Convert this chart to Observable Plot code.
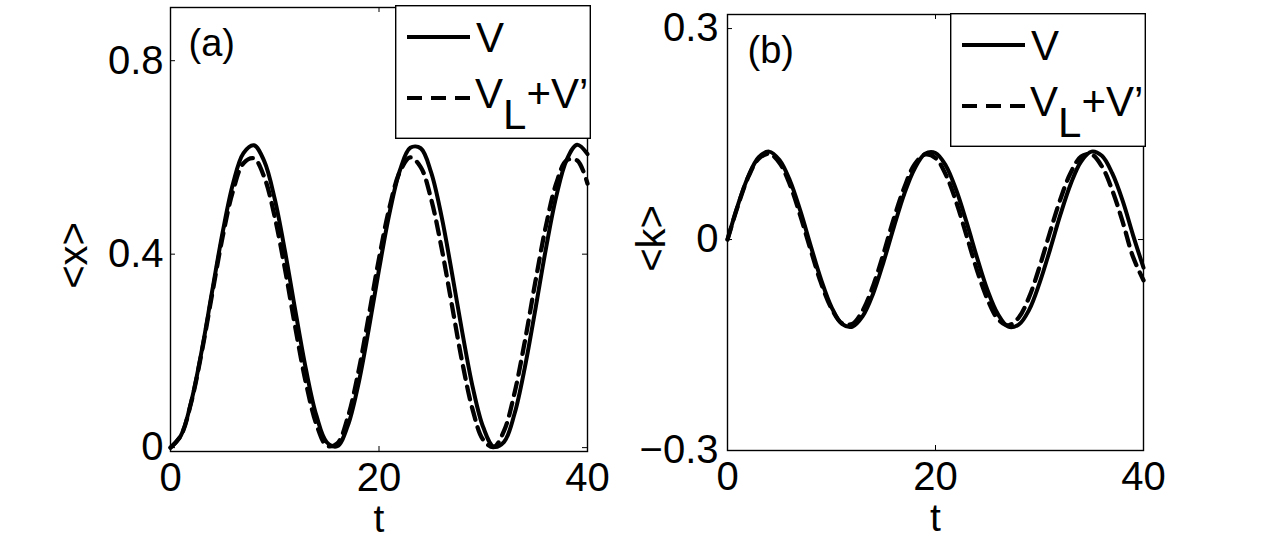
<!DOCTYPE html>
<html>
<head>
<meta charset="utf-8">
<script src="https://cdn.jsdelivr.net/npm/d3@7"></script>
<script src="https://cdn.jsdelivr.net/npm/@observablehq/plot@0.6"></script>
<style>
  html, body { margin: 0; padding: 0; background: #fff; }
  #root { position: relative; width: 1263px; height: 540px; background: #fff; overflow: hidden; }
  .panel { position: absolute; top: 0; }
  .legend { position: absolute; }
</style>
</head>
<body>
<div id="root">
  <div id="pa" class="panel" style="left:0px"></div>
  <div id="pb" class="panel" style="left:631px"></div>
  <div id="la" class="legend" style="left:395px; top:5px"></div>
  <div id="lb" class="legend" style="left:950px; top:13px"></div>
</div>
<script>
// ---- data ----
const tValues = [0,1,2,3,4,5,6,7,8,9,10,11,12,13,14,15,16,17,18,19,20,21,22,23,24,25,26,27,28,29,30,31,32,33,34,35,36,37,38,39,40];

// panel (a): <x>
const xV   = [0, 0.025, 0.096, 0.201, 0.324, 0.445, 0.546, 0.609, 0.625, 0.592, 0.514, 0.404, 0.280, 0.161, 0.066, 0.011, 0.003, 0.045, 0.129, 0.243, 0.368, 0.484, 0.573, 0.620, 0.619, 0.569, 0.478, 0.361, 0.237, 0.124, 0.042, 0.002, 0.012, 0.070, 0.167, 0.286, 0.410, 0.519, 0.595, 0.626, 0.607];
const xVLV = [0, 0.025, 0.095, 0.198, 0.318, 0.436, 0.531, 0.588, 0.598, 0.559, 0.477, 0.367, 0.245, 0.133, 0.048, 0.004, 0.009, 0.062, 0.154, 0.270, 0.391, 0.496, 0.570, 0.600, 0.580, 0.514, 0.413, 0.294, 0.175, 0.077, 0.016, 0.001, 0.035, 0.113, 0.221, 0.343, 0.457, 0.546, 0.594, 0.594, 0.546];

// panel (b): <k>
const kV   = [0, 0.049, 0.090, 0.117, 0.125, 0.113, 0.084, 0.041, -0.009, -0.057, -0.096, -0.120, -0.124, -0.109, -0.077, -0.032, 0.018, 0.065, 0.101, 0.122, 0.123, 0.105, 0.070, 0.024, -0.026, -0.072, -0.106, -0.124, -0.121, -0.100, -0.062, -0.015, 0.035, 0.079, 0.111, 0.125, 0.119, 0.094, 0.055, 0.006, -0.040];
const kVLV = [0, 0.048, 0.089, 0.115, 0.122, 0.109, 0.078, 0.034, -0.015, -0.062, -0.098, -0.119, -0.120, -0.101, -0.066, -0.020, 0.030, 0.074, 0.107, 0.121, 0.116, 0.092, 0.053, 0.005, -0.044, -0.085, -0.113, -0.122, -0.111, -0.082, -0.039, 0.010, 0.057, 0.095, 0.118, 0.121, 0.104, 0.070, 0.025, -0.025, -0.058];

const xTicks  = [0, 20, 40];
const yTicksA = [0, 0.4, 0.8];
const yTicksB = [-0.3, 0, 0.3];
const seriesNames = ["V", "V_L+V’"];
const panelLabels = ["(a)", "(b)"];
const yLabels = ["<x>", "<k>"];
const xLabel = "t";

// ---- build tables ----
const rowsA = tValues.flatMap((t, i) => [
  {t, v: xV[i], s: seriesNames[0]},
  {t, v: xVLV[i], s: seriesNames[1]}
]);
const rowsB = tValues.flatMap((t, i) => [
  {t, v: kV[i], s: seriesNames[0]},
  {t, v: kVLV[i], s: seriesNames[1]}
]);

const FONT = "'Liberation Sans', Arial, Helvetica, sans-serif";
const fmt = d => String(d).replace("-", "\u2212");

function panel({rows, width, ml, mr, mt, mb, yDomain, yTicks, yPad, yLabel, yLabDx, yLabDy, pLabel, pDx}) {
  const fw = width - ml - mr;
  const fh = 540 - mt - mb;
  const tick = 5;
  return Plot.plot({
    width, height: 540,
    marginLeft: ml, marginRight: mr, marginTop: mt, marginBottom: mb,
    x: {domain: [0, 40]},
    y: {domain: yDomain},
    style: {fontFamily: FONT, background: "white", overflow: "visible", color: "black"},
    marks: [
      Plot.line(rows.filter(d => d.s === seriesNames[0]), {x: "t", y: "v", stroke: "black", strokeWidth: 4, curve: "catmull-rom"}),
      Plot.line(rows.filter(d => d.s === seriesNames[1]), {x: "t", y: "v", stroke: "black", strokeWidth: 4.3, strokeDasharray: "13,8", curve: "catmull-rom"}),
      // inward ticks (MATLAB style) on all four sides
      Plot.tickX(xTicks, {x: d => d, insetTop: fh - tick, stroke: "black", strokeWidth: 1}),
      Plot.tickX(xTicks, {x: d => d, insetBottom: fh - tick, stroke: "black", strokeWidth: 1}),
      Plot.tickY(yTicks, {y: d => d, insetRight: fw - tick, stroke: "black", strokeWidth: 1}),
      Plot.tickY(yTicks, {y: d => d, insetLeft: fw - tick, stroke: "black", strokeWidth: 1}),
      Plot.frame({stroke: "black", strokeWidth: 1.4}),
      Plot.axisX(xTicks, {tickSize: 0, tickPadding: 11, fontSize: 40, label: null, tickFormat: fmt}),
      Plot.axisY(yTicks, {tickSize: 0, tickPadding: yPad, fontSize: 40, label: null, tickFormat: fmt}),
      Plot.text([yLabel], {frameAnchor: "left", dx: yLabDx, dy: yLabDy, rotate: -90, fontSize: 40, fill: "black", lineAnchor: "middle", textAnchor: "middle"}),
      Plot.text([xLabel], {frameAnchor: "bottom", dy: 68, fontSize: 39, fill: "black", lineAnchor: "middle"}),
      Plot.text([pLabel], {frameAnchor: "top-left", dx: pDx, dy: 36, lineAnchor: "middle", textAnchor: "start", fontSize: 38, fill: "black"})
    ]
  });
}

document.getElementById("pa").appendChild(panel({
  rows: rowsA, width: 631, ml: 170, mr: 44, mt: 7, mb: 89,
  yDomain: [-0.008, 0.91], yTicks: yTicksA, yPad: 7,
  yLabel: yLabels[0], yLabDx: -96, yLabDy: 26, pLabel: panelLabels[0], pDx: 18
}));
document.getElementById("pb").appendChild(panel({
  rows: rowsB, width: 632, ml: 96, mr: 120, mt: 14, mb: 90,
  yDomain: [-0.3, 0.32], yTicks: yTicksB, yPad: 9,
  yLabel: yLabels[1], yLabDx: -75, yLabDy: 6, pLabel: panelLabels[1], pDx: 20
}));

// ---- legends ----
function legend(id) {
  const W = 196, H = 134;
  const svg = d3.select("#" + id).append("svg")
    .attr("width", W).attr("height", H)
    .style("display", "block")
    .style("font-family", FONT);
  svg.append("rect").attr("x", 0.7).attr("y", 0.7).attr("width", W - 1.4).attr("height", H - 1.4)
    .attr("fill", "white").attr("stroke", "black").attr("stroke-width", 1.4);
  svg.append("line").attr("x1", 12).attr("x2", 75).attr("y1", 32).attr("y2", 32)
    .attr("stroke", "black").attr("stroke-width", 4);
  svg.append("text").attr("x", 81).attr("y", 47).attr("font-size", 42).text("V");
  svg.append("line").attr("x1", 12).attr("x2", 75).attr("y1", 93).attr("y2", 93)
    .attr("stroke", "black").attr("stroke-width", 4).attr("stroke-dasharray", "15,9");
  const t = svg.append("text").attr("x", 80).attr("y", 103).attr("font-size", 42);
  t.append("tspan").text("V");
  t.append("tspan").attr("dy", 21).text("L");
  t.append("tspan").attr("dy", -21).text("+V’");
}
legend("la");
legend("lb");
</script>
</body>
</html>
